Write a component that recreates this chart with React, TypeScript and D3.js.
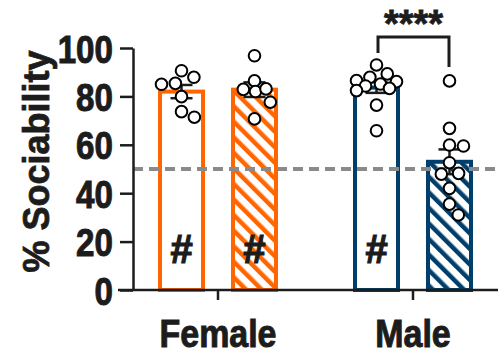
import React, { useEffect, useRef } from 'react';
import * as d3 from 'd3';

// groups and conditions
const sexes = ['Female', 'Male'];
const conditions = ['Control', 'Treated'];

// % sociability per animal
const femaleControl = [87.9, 85.0, 90.6, 85.4, 79.9, 71.4, 73.7];
const femaleTreated = [96.8, 86.4, 82.0, 83.1, 82.9, 77.6, 70.7];
const maleControl = [93.0, 89.3, 87.9, 86.5, 86.1, 85.1, 84.3, 83.3, 82.4, 76.4, 65.8];
const maleTreated = [86.4, 66.8, 59.5, 59.9, 52.6, 48.2, 47.9, 42.0, 35.5, 31.0];

// '#' marks shown inside bars
const hashMarks = [true, true, true, false];

const yTicks = [0, 20, 40, 60, 80, 100];
const chanceLevel = 50;
const sigLabel = '****';

const ORANGE = '#FF6600';
const NAVY = '#003F6B';
const INK = '#1c1c1c';
const FONT = '"Liberation Sans", Arial, sans-serif';

// beeswarm kept inside +/- maxOff; when crowded, take the least-overlapping spot
function swarm(ys: number[], d: number, maxOff: number) {
    const order = ys.map((y, i) => i).sort((a, b) => ys[a] - ys[b]);
    const placed: { x: number; y: number }[] = [];
    const out = new Array(ys.length).fill(0);
    const minDist = (x: number, y: number) =>
        placed.reduce((m, p) => Math.min(m, Math.hypot(x - p.x, y - p.y)), Infinity);
    order.forEach(i => {
        const y = ys[i];
        let cands = [0];
        placed.forEach(p => {
            const dy = Math.abs(p.y - y);
            if (dy < d) {
                const dx = Math.sqrt(d * d - dy * dy);
                cands.push(p.x + dx, p.x - dx);
            }
        });
        cands = cands.filter(x => Math.abs(x) <= maxOff && minDist(x, y) >= d - 0.01);
        let x: number;
        if (cands.length) {
            cands.sort((a, b) => Math.abs(a) - Math.abs(b));
            x = cands[0];
        } else {
            const grid = d3.range(-maxOff, maxOff + 0.5, 1);
            x = grid.reduce((best, g) => (minDist(g, y) > minDist(best, y) ? g : best), 0);
        }
        placed.push({ x, y });
        out[i] = x;
    });
    return out;
}

const App = () => {
    const svgRef = useRef<SVGSVGElement>(null);

    useEffect(() => {
        const width = 498;
        const height = 359;
        const svg = d3.select(svgRef.current).attr('width', width).attr('height', height);
        svg.selectAll('*').remove();

        const series = [
            { sex: 'Female', cond: 'Control', values: femaleControl, color: ORANGE, hash: hashMarks[0] },
            { sex: 'Female', cond: 'Treated', values: femaleTreated, color: ORANGE, hash: hashMarks[1] },
            { sex: 'Male', cond: 'Control', values: maleControl, color: NAVY, hash: hashMarks[2] },
            { sex: 'Male', cond: 'Treated', values: maleTreated, color: NAVY, hash: hashMarks[3] },
        ];

        const y = d3.scaleLinear().domain([0, 100]).range([290, 48]);
        const xGroup = d3.scalePoint().domain(sexes).range([218, 413]);
        const xSub = d3.scaleBand().domain(conditions).range([-60, 60]).paddingInner(0.356);
        const barW = xSub.bandwidth();
        const center = (s: { sex: string; cond: string }) =>
            (xGroup(s.sex) as number) + (xSub(s.cond) as number) + barW / 2;

        // hatch patterns
        const defs = svg.append('defs');
        [['hatch-orange', ORANGE], ['hatch-navy', NAVY]].forEach(([id, c]) => {
            const p = defs.append('pattern')
                .attr('id', id)
                .attr('patternUnits', 'userSpaceOnUse')
                .attr('width', 11)
                .attr('height', 11)
                .attr('patternTransform', 'rotate(-45)');
            p.append('rect').attr('width', 11).attr('height', 11).attr('fill', 'white');
            p.append('rect').attr('width', 4.5).attr('height', 11).attr('fill', c);
        });

        // bars
        const sw = 4;
        series.forEach(s => {
            const m = d3.mean(s.values) as number;
            const fill = s.cond === 'Control' ? 'white'
                : `url(#${s.color === ORANGE ? 'hatch-orange' : 'hatch-navy'})`;
            svg.append('rect')
                .attr('x', center(s) - barW / 2 + sw / 2)
                .attr('y', y(m))
                .attr('width', barW - sw)
                .attr('height', y(0) - y(m))
                .attr('fill', fill)
                .attr('stroke', s.color)
                .attr('stroke-width', sw);
            if (s.hash) {
                svg.append('text')
                    .attr('x', center(s))
                    .attr('y', 263)
                    .attr('text-anchor', 'middle')
                    .attr('font-family', FONT)
                    .attr('font-weight', 'bold')
                    .attr('font-size', 40)
                    .attr('fill', INK)
                    .attr('stroke', INK)
                    .attr('stroke-width', 1.2)
                    .text('#');
            }
        });

        // chance line
        svg.append('line')
            .attr('x1', 133).attr('x2', width)
            .attr('y1', y(chanceLevel)).attr('y2', y(chanceLevel))
            .attr('stroke', '#8a8a8a')
            .attr('stroke-width', 4)
            .attr('stroke-dasharray', '10 6');

        // error bars (SEM) then points
        series.forEach(s => {
            const m = d3.mean(s.values) as number;
            const sem = (d3.deviation(s.values) as number) / Math.sqrt(s.values.length);
            const cx = center(s);
            const g = svg.append('g').attr('stroke', INK).attr('stroke-width', 2.5);
            g.append('line').attr('x1', cx).attr('x2', cx).attr('y1', y(m + sem)).attr('y2', y(m - sem));
            [m + sem, m - sem].forEach(v => {
                g.append('line').attr('x1', cx - 11).attr('x2', cx + 11).attr('y1', y(v)).attr('y2', y(v));
            });
        });

        series.forEach(s => {
            const ys = s.values.map(v => y(v));
            const offs = swarm(ys, 14, 20);
            svg.append('g')
                .selectAll('circle')
                .data(s.values)
                .enter().append('circle')
                .attr('cx', (d, i) => center(s) + offs[i])
                .attr('cy', d => y(d))
                .attr('r', 5.8)
                .attr('fill', 'white')
                .attr('stroke', 'black')
                .attr('stroke-width', 2);
        });

        // y axis
        const yAxis = svg.append('g')
            .attr('transform', 'translate(133,0)')
            .call(d3.axisLeft(y).tickValues(yTicks).tickSize(13).tickSizeOuter(0).tickPadding(7));
        yAxis.select('.domain').attr('stroke', INK).attr('stroke-width', 2.5);
        yAxis.selectAll('.tick line').attr('stroke', INK).attr('stroke-width', 2.5);
        yAxis.selectAll('.tick text').remove();
        yAxis.selectAll('.tick').append('g')
            .attr('transform', 'translate(-113,0)')
            .append('text')
            .attr('transform', 'translate(93,0) scale(0.85,1)')
            .attr('text-anchor', 'end')
            .attr('dy', '0.36em')
            .attr('font-family', FONT)
            .attr('font-weight', 'bold')
            .attr('font-size', 39)
            .attr('fill', INK)
            .attr('stroke', INK)
            .attr('stroke-width', 1)
            .text(d => String(d));

        // x axis
        svg.append('line')
            .attr('x1', 118).attr('x2', width)
            .attr('y1', y(0)).attr('y2', y(0))
            .attr('stroke', INK).attr('stroke-width', 2.5);
        sexes.forEach(sx => {
            const cx = xGroup(sx) as number;
            svg.append('line')
                .attr('x1', cx).attr('x2', cx)
                .attr('y1', y(0)).attr('y2', 300)
                .attr('stroke', INK).attr('stroke-width', 2.5);
            svg.append('text')
                .attr('transform', `translate(${cx},347) scale(0.87,1)`)
                .attr('text-anchor', 'middle')
                .attr('font-family', FONT)
                .attr('font-weight', 'bold')
                .attr('font-size', 39)
                .attr('fill', INK)
                .attr('stroke', INK)
                .attr('stroke-width', 1)
                .text(sx);
        });

        // y label
        svg.append('text')
            .attr('transform', 'translate(49,161.5) rotate(-90)')
            .attr('text-anchor', 'middle')
            .attr('font-family', FONT)
            .attr('font-weight', 'bold')
            .attr('font-size', 36)
            .attr('fill', INK)
            .attr('stroke', INK)
            .attr('stroke-width', 0.8)
            .text('% Sociability');

        // significance bracket between male bars
        const mc = series[2];
        const mt = series[3];
        const xl = center(mc) + 1.5;
        const xr = center(mt) - 0.5;
        svg.append('path')
            .attr('d', `M${xl},53 V37 H${xr} V67`)
            .attr('fill', 'none')
            .attr('stroke', INK)
            .attr('stroke-width', 3);
        svg.append('text')
            .attr('x', (xl + xr) / 2)
            .attr('y', 37)
            .attr('text-anchor', 'middle')
            .attr('font-family', FONT)
            .attr('font-weight', 'bold')
            .attr('font-size', 38)
            .attr('fill', INK)
            .attr('stroke', INK)
            .attr('stroke-width', 0.8)
            .text(sigLabel);
    }, []);

    return (
        <svg ref={svgRef} style={{ position: 'absolute', left: 0, top: 0 }}></svg>
    );
};

export default App;
